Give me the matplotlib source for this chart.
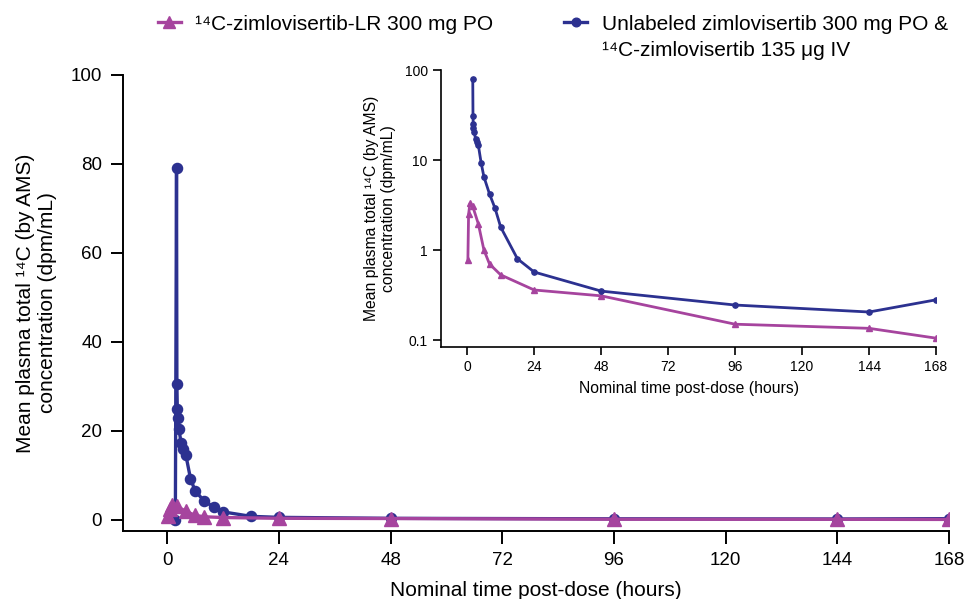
import numpy as np
import matplotlib.pyplot as plt

plt.rcParams['font.family'] = ['Liberation Sans', 'DejaVu Sans']

# magenta series: 14C-zimlovisertib-LR 300 mg PO
t_lr = [0.25, 0.5, 1, 2, 4, 6, 8, 12, 24, 48, 96, 144, 168]
c_lr = [0.78, 2.5, 3.3, 3.05, 1.95, 1.0, 0.7, 0.53, 0.36, 0.31, 0.15, 0.135, 0.105]

# blue series: unlabeled PO + 14C IV microdose
t_iv = [1.75, 2.0, 2.08, 2.17, 2.25, 2.5, 3, 3.5, 4, 5, 6, 8, 10, 12, 18, 24, 48, 96, 144, 168]
c_iv = [0.0, 79, 30.5, 25, 22.8, 20.5, 17.2, 16.0, 14.6, 9.3, 6.5, 4.2, 2.9, 1.8, 0.8, 0.57, 0.35, 0.245, 0.205, 0.28]

xticks = [0, 24, 48, 72, 96, 120, 144, 168]
lab_lr = '\u00b9\u2074C-zimlovisertib-LR 300 mg PO'
lab_iv1 = 'Unlabeled zimlovisertib 300 mg PO &'
lab_iv2 = '\u00b9\u2074C-zimlovisertib 135 \u03bcg IV'
col_lr = '#A6449E'
col_iv = '#2C3190'

W, H = 967, 599
fig = plt.figure(figsize=(W/100, H/100), dpi=100)

# main (linear) plot
ax = fig.add_axes([0.1272, 0.1135, 0.8542, 0.7613])
ax.plot(t_lr, c_lr, color=col_lr, lw=2.4, marker='^', ms=9.5, label=lab_lr, zorder=3)
ax.plot(t_iv, c_iv, color=col_iv, lw=2.4, marker='o', ms=7.3, label=lab_iv1, zorder=2)
ax.set_xlim(-9.5, 168)
ax.set_ylim(-2.5, 100)
ax.set_xticks(xticks)
ax.set_yticks(np.arange(0, 101, 20))
for s in ['top', 'right']:
	ax.spines[s].set_visible(False)
for s in ['left', 'bottom']:
	ax.spines[s].set_linewidth(1.4)
ax.tick_params(labelsize=13.5, length=9, width=1.4, pad=6)
ax.set_xlabel('Nominal time post-dose (hours)', fontsize=15, labelpad=9)
ax.set_ylabel('Mean plasma total \u00b9\u2074C (by AMS)\nconcentration (dpm/mL)', fontsize=15, labelpad=10)

# inset (log) plot
ins = fig.add_axes([0.456, 0.4209, 0.512, 0.4622])
m_lr = np.array(c_lr) > 0
m_iv = np.array(c_iv) > 0
ins.plot(np.array(t_lr)[m_lr], np.array(c_lr)[m_lr], color=col_lr, lw=2, marker='^', ms=4.5)
ins.plot(np.array(t_iv)[m_iv], np.array(c_iv)[m_iv], color=col_iv, lw=2, marker='o', ms=3.8)
ins.set_yscale('log')
ins.set_xlim(-9.4, 168)
ins.set_ylim(0.084, 100)
ins.set_xticks(xticks)
ins.set_yticks([0.1, 1, 10, 100])
ins.set_yticklabels(['0.1', '1', '10', '100'])
ins.minorticks_off()
ins.patch.set_alpha(0)
for s in ['top', 'right']:
	ins.spines[s].set_visible(False)
for s in ['left', 'bottom']:
	ins.spines[s].set_linewidth(1.2)
ins.tick_params(labelsize=10, length=5.5, width=1.2, pad=4)
ins.set_xlabel('Nominal time post-dose (hours)', fontsize=11.3, labelpad=5)
ins.set_ylabel('Mean plasma total \u00b9\u2074C (by AMS)\nconcentration (dpm/mL)', fontsize=11.3, labelpad=6)

h, l = ax.get_legend_handles_labels()
leg = fig.legend(h, l, loc='upper left', bbox_to_anchor=(0.148, 1.0), ncol=2, frameon=False,
	fontsize=15, handlelength=1.1, handletextpad=0.7, columnspacing=3.4, markerscale=0.85,
	borderaxespad=0.3)

# second line of the blue legend label, under the first
fig.canvas.draw()
bb = leg.get_texts()[1].get_window_extent()
fig.text(bb.x0/W, bb.y0/H - 0.012, lab_iv2, fontsize=15, va='top', ha='left')

fig.savefig('out.png', dpi=100)
